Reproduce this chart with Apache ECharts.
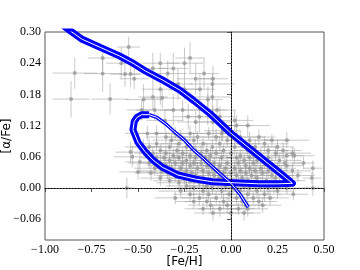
<!DOCTYPE html>
<html><head><meta charset="utf-8">
<script src="https://cdn.jsdelivr.net/npm/echarts@6/dist/echarts.min.js"></script>
<style>html,body{margin:0;padding:0;background:#fff}#c{width:360px;height:270px}</style>
</head><body><div id="c"></div>
<script>
const xTicks = [-1.00, -0.75, -0.50, -0.25, 0.00, 0.25, 0.50];
const yTicks = [-0.06, 0.00, 0.06, 0.12, 0.18, 0.24, 0.30];
const xName = '[Fe/H]';
const yName = '[\u03b1/Fe]';

// stars: [FeH, alpha/Fe, FeH error, alpha/Fe error]
const stars = [
[-0.86,0.171,0.10,0.035],[-0.84,0.221,0.12,0.030],[-0.69,0.250,0.08,0.025],[-0.69,0.220,0.10,0.035],
[-0.65,0.171,0.10,0.030],[-0.55,0.271,0.06,0.020],[-0.59,0.240,0.08,0.030],[-0.57,0.219,0.08,0.025],
[-0.54,0.219,0.06,0.025],[-0.52,0.210,0.08,0.020],[-0.47,0.170,0.10,0.030],[-0.48,0.150,0.08,0.020],
[-0.42,0.230,0.08,0.030],[-0.38,0.240,0.10,0.020],[-0.31,0.230,0.08,0.030],[-0.25,0.240,0.10,0.030],
[-0.22,0.250,0.08,0.030],[-0.34,0.220,0.10,0.025],[-0.285,0.200,0.08,0.030],[-0.19,0.210,0.10,0.030],
[-0.145,0.220,0.08,0.030],[-0.10,0.200,0.12,0.020],[-0.25,0.190,0.08,0.020],[-0.38,0.190,0.10,0.030],
[-0.42,0.175,0.08,0.025],[-0.37,0.173,0.10,0.020],[-0.10,0.175,0.10,0.030],[-0.41,0.150,0.10,0.020],
[-0.31,0.150,0.08,0.030],[-0.26,0.150,0.10,0.020],[-0.17,0.137,0.08,0.030],[-0.125,0.150,0.10,0.030],
[-0.075,0.150,0.10,0.020],[-0.355,0.130,0.10,0.020],[-0.23,0.137,0.08,0.025],[-0.19,0.127,0.10,0.020],
[-0.097,0.127,0.10,0.030],[-0.06,0.137,0.08,0.020],[-0.167,0.190,0.08,0.030],[-0.124,0.170,0.08,0.025],
[-0.097,0.210,0.08,0.025],[0.02,0.130,0.10,0.020],[0.03,0.120,0.08,0.020],[0.09,0.120,0.12,0.020],
[-0.045,0.110,0.10,0.020],[-0.54,0.069,0.08,0.020],[-0.53,0.060,0.10,0.020],[-0.49,0.050,0.08,0.020],
[-0.50,0.031,0.10,0.015],[-0.56,0.000,0.04,0.020],[-0.45,0.105,0.12,0.015],[-0.47,0.079,0.10,0.015],
// dense cloud
[-0.40,0.105,0.10,0.015],[-0.30,0.105,0.12,0.012],[-0.22,0.105,0.08,0.015],[-0.12,0.105,0.11,0.012],[-0.05,0.105,0.09,0.015],
[-0.35,0.098,0.11,0.012],[-0.27,0.098,0.09,0.015],[-0.18,0.098,0.12,0.012],[-0.08,0.098,0.10,0.015],[0.05,0.098,0.13,0.012],[0.15,0.098,0.09,0.015],
[-0.32,0.092,0.10,0.012],[-0.20,0.092,0.13,0.015],[-0.02,0.092,0.09,0.012],[0.10,0.092,0.11,0.015],[0.22,0.092,0.10,0.012],[0.30,0.092,0.12,0.015],
[-0.40,0.085,0.12,0.012],[-0.28,0.085,0.10,0.015],[-0.15,0.085,0.09,0.012],[-0.06,0.085,0.12,0.015],[0.06,0.085,0.10,0.012],[0.18,0.085,0.13,0.015],
[-0.44,0.079,0.10,0.015],[-0.33,0.079,0.12,0.012],[-0.24,0.079,0.09,0.015],[-0.10,0.079,0.11,0.012],[0.02,0.079,0.10,0.015],[0.13,0.079,0.12,0.012],[0.25,0.079,0.09,0.015],
[-0.38,0.072,0.11,0.012],[-0.29,0.072,0.09,0.015],[-0.19,0.072,0.12,0.012],[-0.13,0.072,0.10,0.015],[-0.04,0.072,0.13,0.012],[0.09,0.072,0.09,0.015],[0.20,0.072,0.11,0.012],[0.28,0.072,0.10,0.015],
[-0.42,0.067,0.10,0.012],[-0.35,0.067,0.12,0.015],[-0.26,0.067,0.09,0.012],[-0.16,0.067,0.11,0.015],[-0.08,0.067,0.10,0.012],[0.00,0.067,0.12,0.015],[0.12,0.067,0.09,0.012],[0.24,0.067,0.11,0.015],[0.33,0.067,0.10,0.012],
[-0.31,0.062,0.12,0.015],[-0.22,0.062,0.10,0.012],[-0.11,0.062,0.09,0.015],[0.05,0.062,0.12,0.012],[0.16,0.062,0.10,0.015],[0.30,0.062,0.09,0.012],[0.34,0.062,0.11,0.015],
[-0.40,0.058,0.09,0.012],[-0.36,0.058,0.11,0.015],[-0.28,0.058,0.10,0.012],[-0.19,0.058,0.12,0.015],[-0.14,0.058,0.09,0.012],[-0.05,0.058,0.11,0.015],[0.03,0.058,0.10,0.012],[0.10,0.058,0.12,0.015],[0.20,0.058,0.09,0.012],
[-0.33,0.053,0.10,0.015],[-0.24,0.053,0.12,0.012],[-0.12,0.053,0.09,0.015],[0.07,0.053,0.11,0.012],[0.14,0.053,0.10,0.015],[0.26,0.053,0.12,0.012],
[-0.44,0.048,0.11,0.012],[-0.38,0.048,0.10,0.015],[-0.30,0.048,0.12,0.012],[-0.26,0.048,0.09,0.015],[-0.20,0.048,0.11,0.012],[-0.16,0.048,0.10,0.015],[-0.09,0.048,0.12,0.012],[-0.02,0.048,0.09,0.015],[0.04,0.048,0.11,0.012],[0.12,0.048,0.10,0.015],[0.18,0.048,0.12,0.012],[0.29,0.048,0.09,0.015],[0.39,0.048,0.06,0.012],
[-0.35,0.043,0.10,0.012],[-0.22,0.043,0.12,0.015],[-0.13,0.043,0.09,0.012],[-0.06,0.043,0.11,0.015],[0.08,0.043,0.10,0.012],[0.22,0.043,0.12,0.015],[0.30,0.043,0.09,0.012],
[-0.41,0.038,0.11,0.015],[-0.32,0.038,0.10,0.012],[-0.27,0.038,0.12,0.015],[-0.18,0.038,0.09,0.012],[-0.10,0.038,0.11,0.015],[-0.03,0.038,0.10,0.012],[0.02,0.038,0.12,0.015],[0.10,0.038,0.09,0.012],[0.16,0.038,0.11,0.015],[0.25,0.038,0.10,0.012],[0.44,0.038,0.05,0.015],
[-0.37,0.033,0.12,0.012],[-0.24,0.033,0.09,0.015],[-0.15,0.033,0.11,0.012],[-0.07,0.033,0.10,0.015],[0.05,0.033,0.12,0.012],[0.13,0.033,0.09,0.015],[0.20,0.033,0.11,0.012],[0.33,0.033,0.10,0.015],
[-0.43,0.029,0.09,0.015],[-0.34,0.029,0.11,0.012],[-0.28,0.029,0.10,0.015],[-0.21,0.029,0.12,0.012],[-0.12,0.029,0.09,0.015],[-0.04,0.029,0.11,0.012],[0.00,0.029,0.10,0.015],[0.08,0.029,0.12,0.012],[0.17,0.029,0.09,0.015],[0.27,0.029,0.11,0.012],
[-0.30,0.024,0.10,0.012],[-0.19,0.024,0.12,0.015],[-0.09,0.024,0.09,0.012],[0.03,0.024,0.11,0.015],[0.11,0.024,0.10,0.012],[0.22,0.024,0.12,0.015],[0.36,0.024,0.09,0.012],
[-0.38,0.019,0.11,0.015],[-0.25,0.019,0.10,0.012],[-0.15,0.019,0.12,0.015],[-0.06,0.019,0.09,0.012],[0.06,0.019,0.11,0.015],[0.14,0.019,0.10,0.012],[0.24,0.019,0.12,0.015],[0.435,0.019,0.05,0.012],
[-0.33,0.014,0.09,0.012],[-0.22,0.014,0.11,0.015],[-0.11,0.014,0.10,0.012],[-0.02,0.014,0.12,0.015],[0.09,0.014,0.09,0.012],[0.19,0.014,0.11,0.015],[0.30,0.014,0.10,0.012],
[-0.28,0.010,0.12,0.015],[-0.17,0.010,0.09,0.012],[-0.07,0.010,0.11,0.015],[0.04,0.010,0.10,0.012],[0.13,0.010,0.12,0.015],[0.26,0.010,0.09,0.012],
[-0.24,0.004,0.11,0.012],[-0.13,0.004,0.10,0.015],[-0.03,0.004,0.12,0.012],[0.07,0.004,0.09,0.015],[0.16,0.004,0.11,0.012],[0.23,0.004,0.10,0.015],
[-0.20,0.000,0.10,0.015],[-0.10,0.000,0.12,0.012],[0.01,0.000,0.09,0.015],[0.10,0.000,0.11,0.012],[0.20,0.000,0.10,0.015],[0.30,0.000,0.12,0.012],[0.44,0.000,0.05,0.015],
[-0.27,-0.006,0.12,0.012],[-0.15,-0.006,0.09,0.015],[-0.05,-0.006,0.11,0.012],[0.05,-0.006,0.10,0.015],[0.14,-0.006,0.12,0.012],[0.25,-0.006,0.09,0.015],
[-0.22,-0.012,0.09,0.015],[-0.12,-0.012,0.11,0.012],[-0.01,-0.012,0.10,0.015],[0.09,-0.012,0.12,0.012],[0.18,-0.012,0.09,0.015],[0.335,-0.012,0.08,0.012],
[-0.30,-0.019,0.11,0.012],[-0.17,-0.019,0.10,0.015],[-0.08,-0.019,0.12,0.012],[0.03,-0.019,0.09,0.015],[0.12,-0.019,0.11,0.012],[0.21,-0.019,0.10,0.015],
[-0.20,-0.026,0.10,0.015],[-0.13,-0.026,0.12,0.012],[-0.04,-0.026,0.09,0.015],[0.06,-0.026,0.11,0.012],[0.15,-0.026,0.10,0.015],
[-0.11,-0.033,0.12,0.012],[-0.02,-0.033,0.09,0.015],[0.08,-0.033,0.11,0.012],[0.17,-0.033,0.10,0.015],
[-0.15,-0.040,0.10,0.012],[-0.06,-0.040,0.12,0.015],[0.04,-0.040,0.09,0.012],[0.09,-0.040,0.11,0.015],
[-0.097,-0.048,0.10,0.015],[0.00,-0.048,0.12,0.012],[0.07,-0.048,0.09,0.015]
];

// model tracks: [FeH, alpha/Fe]
const trackThick = [
[-0.90,0.312],[-0.86,0.301],[-0.80,0.286],[-0.70,0.270],[-0.60,0.254],[-0.527,0.240],[-0.46,0.225],
[-0.37,0.208],[-0.274,0.188],[-0.20,0.168],[-0.113,0.143],[0.00,0.105],[0.10,0.076],[0.20,0.047],
[0.28,0.024],[0.33,0.009],
[0.25,0.008],[0.15,0.008],[0.02,0.010],[-0.10,0.012],[-0.19,0.017],[-0.285,0.025],[-0.37,0.040],
[-0.42,0.054],[-0.462,0.070],[-0.50,0.088],[-0.527,0.112],[-0.52,0.128],[-0.505,0.136],[-0.48,0.141],[-0.44,0.141]
];
const trackThin = [
[-0.44,0.141],[-0.40,0.136],[-0.35,0.123],[-0.31,0.110],[-0.25,0.092],[-0.204,0.074],[-0.14,0.054],
[-0.07,0.031],[0.00,0.009],[0.05,-0.013],[0.093,-0.037]
];
const refFeH = 0.00, refAlpha = 0.00;

const fmt = v => (v < 0 ? '\u2212' : '') + Math.abs(v).toFixed(2);
const serif = 'Liberation Serif';
const chart = echarts.init(document.getElementById('c'), null, {renderer: 'canvas'});
chart.setOption({
  animation: false,
  grid: {left: 45, right: 36, top: 32, bottom: 30, show: true, borderColor: '#555', borderWidth: 1,
         containLabel: false, outerBoundsMode: 'none'},
  xAxis: {
    type: 'value', min: -1.0, max: 0.5,
    name: xName, nameLocation: 'middle', nameGap: 16, nameMoveOverlap: false,
    nameTextStyle: {fontFamily: 'DejaVu Sans', fontSize: 12, color: '#000', verticalAlign: 'top'},
    axisLine: {show: true, lineStyle: {color: '#555', width: 1}},
    axisTick: {show: true, length: 4, lineStyle: {color: '#555'}, customValues: xTicks},
    axisLabel: {fontFamily: serif, fontSize: 12, color: '#000', margin: 4, formatter: fmt, customValues: xTicks},
    splitLine: {show: false}
  },
  yAxis: {
    type: 'value', min: -0.10, max: 0.30,
    name: yName, nameLocation: 'middle', nameGap: 32, nameMoveOverlap: false,
    nameTextStyle: {fontFamily: 'DejaVu Sans', fontSize: 12, color: '#000'},
    axisLine: {show: true, lineStyle: {color: '#555', width: 1}},
    axisTick: {show: true, length: 4, lineStyle: {color: '#555'}, customValues: yTicks},
    axisLabel: {fontFamily: serif, fontSize: 12, color: '#000', margin: 4, formatter: fmt, customValues: yTicks},
    splitLine: {show: false}
  },
  series: [
    {
      type: 'custom', z: 1, clip: true, silent: true,
      data: stars,
      renderItem: function (params, api) {
        const x = api.value(0), y = api.value(1), ex = api.value(2), ey = api.value(3);
        const a = api.coord([x - ex, y]), b = api.coord([x + ex, y]);
        const c = api.coord([x, y - ey]), d = api.coord([x, y + ey]);
        const st = {stroke: 'rgba(150,150,150,0.5)', lineWidth: 1};
        return {type: 'group', children: [
          {type: 'line', shape: {x1: a[0], y1: a[1], x2: b[0], y2: b[1]}, style: st},
          {type: 'line', shape: {x1: c[0], y1: c[1], x2: d[0], y2: d[1]}, style: st}
        ]};
      }
    },
    {
      type: 'scatter', z: 2, silent: true, symbolSize: 4,
      data: stars.map(s => [s[0], s[1]]),
      itemStyle: {color: '#999999'}
    },
    {
      type: 'line', z: 3, silent: true, data: [],
      markLine: {
        silent: true, symbol: 'none', label: {show: false},
        lineStyle: {color: '#000', type: [1.5, 1.5], width: 1},
        data: [{xAxis: refFeH}, {yAxis: refAlpha}]
      }
    },
    {type: 'line', z: 4, silent: true, symbol: 'none', data: trackThick, clip: true,
     lineStyle: {color: '#0000ff', width: 7, join: 'round'}},
    {type: 'line', z: 5, silent: true, symbol: 'none', data: trackThick, clip: true,
     lineStyle: {color: '#ffffff', width: 1}},
    {type: 'line', z: 4, silent: true, symbol: 'none', data: trackThin, clip: true,
     lineStyle: {color: '#0000ff', width: 3.5}},
    {type: 'line', z: 5, silent: true, symbol: 'none', data: trackThin, clip: true,
     lineStyle: {color: '#ffffff', width: 1}}
  ]
});
</script>
</body></html>
